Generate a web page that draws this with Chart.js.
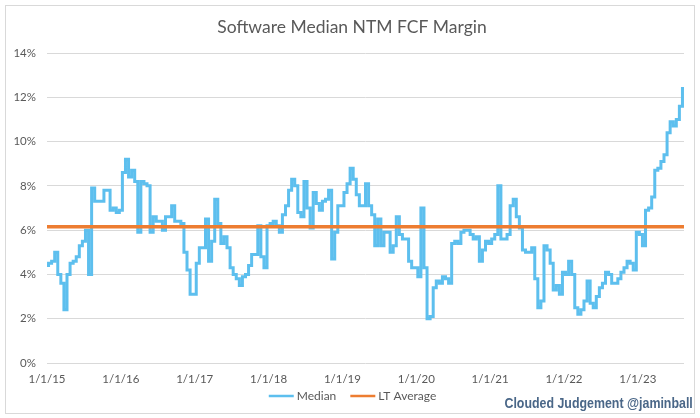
<!DOCTYPE html>
<html>
<head>
<meta charset="utf-8">
<script src="https://cdn.jsdelivr.net/npm/chart.js@4.4.0/dist/chart.umd.min.js"></script>
<style>
  html, body { margin: 0; padding: 0; background: #fff; }
  #wrap { position: relative; width: 700px; height: 418px; }
  #frame { position: absolute; left: 5px; top: 5px; width: 688px; height: 407px; border: 1px solid #d9d9d9; }
  #fcfChart { position: absolute; left: 0; top: 0; }
  #mark { position: absolute; right: 7px; top: 395px; font: bold 14px "Liberation Sans Narrow", "Arial Narrow", sans-serif; color: #4a6788; transform: scaleX(0.885); transform-origin: right center; white-space: nowrap; }
</style>
</head>
<body>
<div id="wrap">
  <div id="frame"></div>
  <canvas id="fcfChart" width="700" height="418"></canvas>
  <div id="mark">Clouded Judgement @jaminball</div>
</div>
<script>
// median NTM FCF margin (%), two readings per month (1st and 16th)
const fy2015 = [4.4, 4.5, 4.6, 5.0, 4.0, 3.6, 2.4, 4.0, 4.5, 4.6, 4.8, 5.3, 5.5, 6.0, 4.0, 7.9, 7.3, 7.3, 7.3, 7.8, 7.8, 6.9, 7.0, 6.8];
const fy2016 = [6.9, 8.6, 9.2, 8.4, 8.7, 8.2, 5.9, 8.2, 8.1, 8.0, 5.9, 6.6, 6.4, 6.4, 6.0, 6.6, 6.6, 7.1, 6.4, 6.4, 6.3, 5.0, 4.2, 3.1];
const fy2017 = [3.1, 4.5, 5.2, 5.2, 6.5, 4.6, 5.5, 7.4, 6.3, 5.4, 5.7, 5.2, 4.3, 4.0, 3.8, 3.5, 3.9, 4.0, 4.4, 4.9, 4.9, 6.2, 4.8, 4.3];
const fy2018 = [6.2, 6.3, 6.4, 6.2, 5.9, 6.7, 7.1, 7.8, 8.3, 8.0, 6.8, 6.6, 8.2, 7.0, 6.1, 7.7, 7.2, 6.9, 7.3, 7.4, 7.8, 4.7, 5.9, 7.1];
const fy2019 = [7.1, 7.7, 8.1, 8.8, 8.3, 7.6, 7.1, 7.1, 8.1, 7.1, 6.7, 5.3, 6.5, 5.3, 5.9, 5.9, 5.0, 5.3, 6.6, 5.8, 5.6, 5.6, 4.6, 4.3];
const fy2020 = [4.3, 3.9, 7.0, 4.3, 2.0, 2.1, 3.4, 3.7, 3.6, 3.9, 3.8, 3.6, 5.4, 5.5, 5.4, 5.9, 6.0, 6.0, 5.8, 5.6, 5.7, 4.6, 5.1, 5.5];
const fy2021 = [5.4, 5.6, 5.8, 8.0, 5.6, 5.6, 5.8, 7.1, 7.4, 6.6, 6.1, 5.1, 5.0, 5.0, 5.2, 3.8, 2.5, 2.8, 5.3, 5.1, 4.5, 3.3, 3.5, 3.1];
const fy2022 = [4.1, 4.0, 4.6, 4.0, 2.5, 2.2, 2.4, 2.8, 3.7, 2.7, 2.5, 3.0, 3.4, 3.6, 4.1, 4.0, 3.6, 3.6, 3.8, 4.1, 4.3, 4.6, 4.5, 4.2];
const fy2023 = [5.9, 5.8, 5.3, 6.9, 7.0, 7.5, 8.7, 8.8, 9.1, 9.4, 10.4, 10.9, 10.7, 11.0, 11.6, 12.4];

const years = [15, 16, 17, 18, 19, 20, 21, 22, 23];
const yearly = [fy2015, fy2016, fy2017, fy2018, fy2019, fy2020, fy2021, fy2022, fy2023];
const ltAverage = 6.15;
const yTicks = [0, 2, 4, 6, 8, 10, 12, 14];

// build the date labels (m/d/yy) to go with the readings
const labels = [];
const median = [];
yearly.forEach((vals, y) => {
  vals.forEach((v, k) => {
    const month = Math.floor(k / 2) + 1;
    const day = k % 2 === 0 ? 1 : 16;
    labels.push(month + '/' + day + '/' + years[y]);
    median.push(v);
  });
});

const gray = '#595959';

// excel style legend under the axis: short line, tight gap, then the name
const bottomLegend = {
  id: 'bottomLegend',
  afterDraw(chart) {
    const c = chart.ctx;
    const sets = chart.data.datasets;
    c.save();
    c.font = '12px Lato';
    c.textBaseline = 'middle';
    const lineW = 25, gapText = 3, gapItem = 14;
    let total = 0;
    sets.forEach((ds, i) => {
      total += lineW + gapText + c.measureText(ds.label).width + (i < sets.length - 1 ? gapItem : 0);
    });
    let x = 352.5 - total / 2;
    const y = 396;
    sets.forEach(ds => {
      c.strokeStyle = ds.borderColor;
      c.lineWidth = 2.5;
      c.beginPath();
      c.moveTo(x, y);
      c.lineTo(x + lineW, y);
      c.stroke();
      x += lineW + gapText;
      c.fillStyle = gray;
      c.fillText(ds.label, x, y);
      x += c.measureText(ds.label).width + gapItem;
    });
    c.restore();
  }
};

const ctx = document.getElementById('fcfChart').getContext('2d');
new Chart(ctx, {
  type: 'line',
  data: {
    labels: labels,
    datasets: [{
      label: 'Median',
      data: median,
      borderColor: '#5dbfee',
      backgroundColor: '#5dbfee',
      borderWidth: 3,
      pointRadius: 0,
      stepped: 'middle',
      order: 1
    }, {
      label: 'LT Average',
      data: labels.map(() => ltAverage),
      borderColor: '#ed7d31',
      backgroundColor: '#ed7d31',
      borderWidth: 3.5,
      pointRadius: 0,
      order: 0
    }]
  },
  plugins: [bottomLegend],
  options: {
    responsive: false,
    devicePixelRatio: 1,
    animation: false,
    layout: { padding: { left: 4, right: 0, top: 0, bottom: 30 } },
    plugins: {
      tooltip: { enabled: false },
      legend: { display: false },
      title: {
        display: true,
        text: 'Software Median NTM FCF Margin',
        color: gray,
        font: { family: 'Lato', size: 17.5, weight: 'normal' },
        padding: { top: 17, bottom: 15 }
      }
    },
    scales: {
      x: {
        type: 'category',
        offset: false,
        grid: { display: false, drawTicks: false },
        border: { display: false },
        afterFit: scale => { scale.height = 25; },
        ticks: {
          autoSkip: false,
          maxRotation: 0,
          padding: 9,
          color: gray,
          font: { family: 'Lato', size: 11.5 },
          callback: function (val) {
            const l = this.getLabelForValue(val);
            return l.startsWith('1/1/') ? l : '';
          }
        }
      },
      y: {
        min: 0,
        max: 14,
        afterFit: scale => { scale.width = 43; },
        afterBuildTicks: scale => { scale.ticks = yTicks.map(v => ({ value: v })); },
        grid: { color: '#d9d9d9', drawTicks: false },
        border: { display: false },
        ticks: {
          padding: 11,
          color: gray,
          font: { family: 'Lato', size: 11.5 },
          callback: v => v + '%'
        }
      },
      // empty right-hand axis, only keeps the plot clear of the frame
      yPad: {
        position: 'right',
        grid: { display: false, drawTicks: false },
        border: { display: false },
        ticks: { display: false },
        afterFit: scale => { scale.width = 16; }
      }
    }
  }
});
</script>
</body>
</html>
